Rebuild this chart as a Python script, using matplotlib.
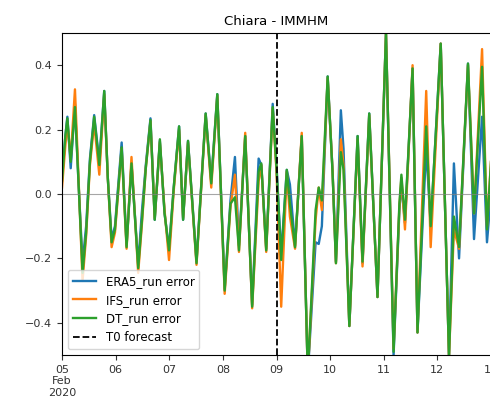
import matplotlib

matplotlib.use("Agg")
import matplotlib.pyplot as plt
import numpy as np
import pandas as pd

# hours after 2020-02-05 00:00 (turning points)
hours = [0, 1.5, 2.4, 3.9, 5.8, 7.5, 9.2, 10.8, 12.5, 14.4, 16.7, 18.9, 20.5, 22.2, 23.7,
         26.7, 28.9, 31.1, 34.1, 35.7, 37.5, 39.6, 41.5, 43.8, 45.9, 47.9, 50.0, 52.4, 54.2,
         56.4, 60.2, 64.3, 66.8, 69.5, 72.8, 75.4, 77.4, 79.2, 82.0, 85.1, 88.0, 89.2, 91.4,
         94.3, 96.0, 98.1, 100.6, 102.0, 104.3, 107.3, 110.0, 113.5, 114.9, 116.3, 118.9,
         121.1, 122.6, 124.8, 126.0, 128.6, 132.3, 134.5, 137.5, 141.2, 145.0, 148.4, 151.0,
         151.9, 153.5, 156.9, 159.1, 163.0, 165.0, 169.5, 173.2, 175.4, 177.7, 181.7, 184.4,
         188.0, 190.2, 192.0]

dt_err = [0.04, 0.18, 0.235, 0.10, 0.27, 0.02, -0.245, -0.12, 0.10, 0.24, 0.09, 0.32, 0.05,
          -0.15, -0.11, 0.145, -0.165, 0.095, -0.23, -0.09, 0.08, 0.23, -0.08, 0.17, -0.06,
          -0.175, 0.02, 0.21, -0.08, 0.165, -0.215, 0.25, 0.033, 0.31, -0.30, -0.03, -0.01,
          -0.175, 0.18, -0.35, 0.07, 0.095, -0.175, 0.27, 0.08, -0.205, 0.075, -0.03, -0.165,
          0.18, -0.56, -0.05, 0.02, -0.02, 0.365, 0.065, -0.215, 0.13, 0.075, -0.41, 0.18,
          -0.21, 0.25, -0.32, 0.50, -0.49, -0.03, 0.06, -0.08, 0.39, -0.43, 0.21, -0.10,
          0.467, -0.505, -0.07, -0.165, 0.405, -0.06, 0.395, -0.11, 0.10]

era5_err = [0.05, 0.18, 0.24, 0.08, 0.28, 0.02, -0.215, -0.10, 0.11, 0.245, 0.10, 0.32, 0.05,
            -0.14, -0.10, 0.16, -0.16, 0.095, -0.22, -0.06, 0.09, 0.235, -0.08, 0.165, -0.06,
            -0.17, 0.02, 0.21, -0.08, 0.165, -0.21, 0.25, 0.04, 0.31, -0.295, -0.02, 0.115,
            -0.16, 0.18, -0.345, 0.11, 0.09, -0.17, 0.28, 0.09, -0.19, 0.075, 0.03, -0.16,
            0.18, -0.56, -0.15, -0.155, -0.10, 0.365, 0.07, -0.21, 0.26, 0.14, -0.41, 0.18,
            -0.215, 0.25, -0.32, 0.50, -0.50, -0.05, 0.03, -0.09, 0.39, -0.43, 0.145, -0.10,
            0.467, -0.505, 0.095, -0.20, 0.405, -0.14, 0.24, -0.15, 0.0]

ifs_err = [0.02, 0.15, 0.22, 0.11, 0.325, 0.03, -0.27, -0.13, 0.09, 0.22, 0.06, 0.31, 0.05,
           -0.165, -0.12, 0.14, -0.17, 0.115, -0.245, -0.10, 0.08, 0.225, -0.075, 0.16, -0.05,
           -0.205, 0.01, 0.20, -0.075, 0.16, -0.22, 0.245, 0.02, 0.305, -0.31, -0.04, 0.06,
           -0.18, 0.19, -0.355, 0.04, 0.09, -0.18, 0.265, 0.07, -0.35, 0.07, -0.07, -0.17,
           0.19, -0.56, -0.08, 0.02, -0.05, 0.36, 0.07, -0.215, 0.17, 0.09, -0.41, 0.17,
           -0.225, 0.245, -0.32, 0.50, -0.48, -0.04, 0.05, -0.11, 0.40, -0.43, 0.32, -0.165,
           0.467, -0.505, -0.11, -0.17, 0.40, -0.06, 0.45, -0.10, 0.10]

start = pd.Timestamp("2020-02-05")
t0_forecast = pd.Timestamp("2020-02-09")
tick_days = pd.date_range("2020-02-05", "2020-02-13", freq="D")
tick_labels = ["05\nFeb\n2020", "06", "07", "08", "09", "10", "11", "12", "13"]

times = start + pd.to_timedelta(np.array(hours), unit="h")

fig = plt.figure(figsize=(4.9, 4.01), dpi=100)
ax = fig.add_axes([62 / 490, 46 / 401, 429 / 490, 322 / 401])

ax.plot(times, era5_err, color="tab:blue", linewidth=1.7, label="ERA5_run error")
ax.plot(times, ifs_err, color="tab:orange", linewidth=1.7, label="IFS_run error")
ax.plot(times, dt_err, color="tab:green", linewidth=1.7, label="DT_run error")
ax.axvline(t0_forecast, color="black", linestyle="--", linewidth=1.3, label="T0 forecast")
ax.axhline(0, color="gray", linewidth=0.8, alpha=0.7)

ax.set_xlim(start, pd.Timestamp("2020-02-13"))
ax.set_ylim(-0.5, 0.5)
ax.set_xticks(tick_days)
ax.set_xticklabels(tick_labels)
ax.set_yticks([-0.4, -0.2, 0.0, 0.2, 0.4])
ax.tick_params(axis="both", labelsize=8, colors="#333333")
ax.set_title("Chiara - IMMHM", fontsize=9.5)
ax.legend(loc="lower left", fontsize=8.5)

plt.savefig("out.png", dpi=100)
plt.close()
